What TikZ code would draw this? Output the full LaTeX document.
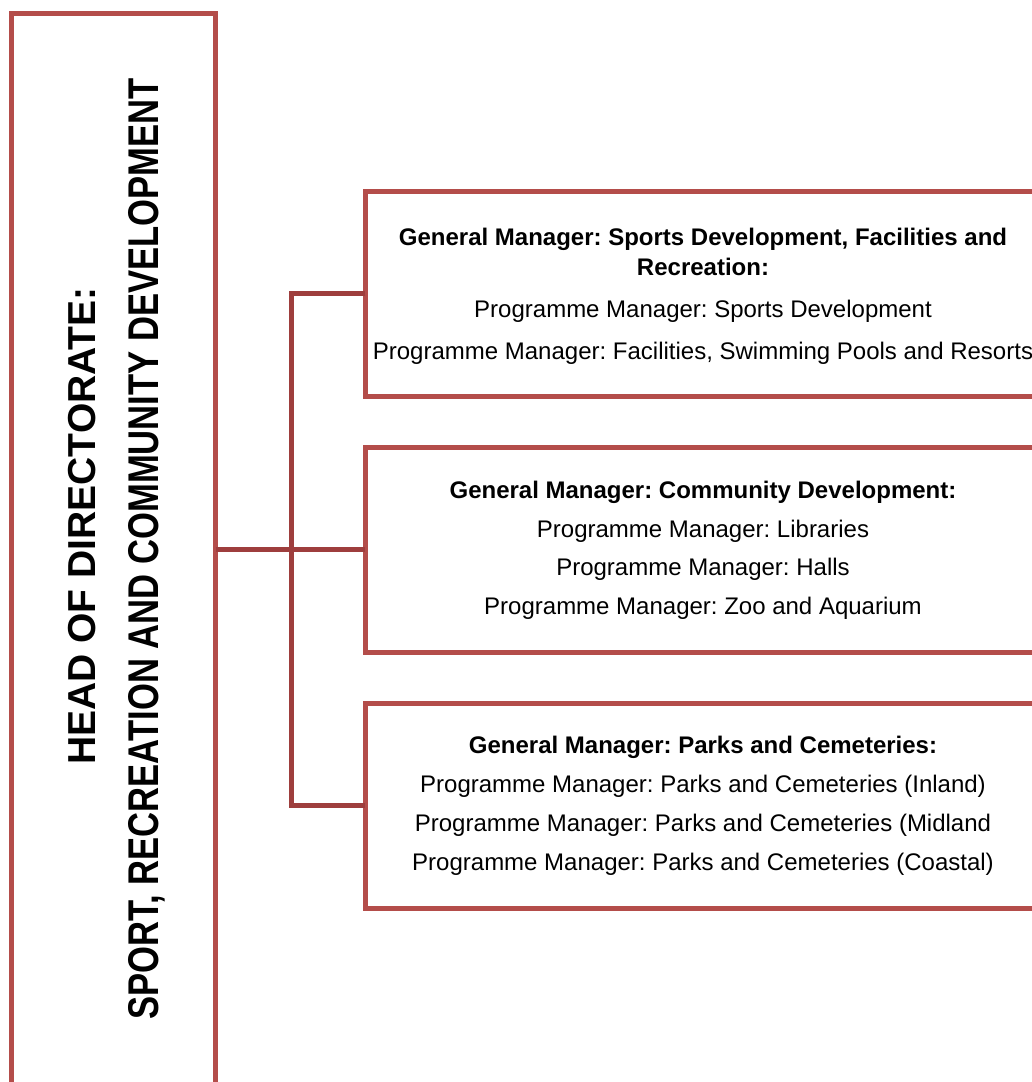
\documentclass[tikz,border=0pt]{standalone}
\usepackage{fontspec}
\setmainfont{Liberation Sans}
\frenchspacing
\begin{document}
\begin{tikzpicture}[x=1pt,y=-1pt,
  boxline/.style={draw=boxred,line width=5pt,outer sep=0pt},
  conn/.style={draw=connred,line width=5pt},
  mgrbox/.style={boxline,anchor=north west,minimum width=700pt,minimum height=205pt,inner sep=0pt},
  bodytxt/.style={anchor=base,inner sep=0pt,font=\fontsize{24}{28}\selectfont},
  headtxt/.style={anchor=base,inner sep=0pt,font=\fontsize{24}{28}\selectfont\bfseries},
]
\definecolor{boxred}{RGB}{180,77,74}
\definecolor{connred}{RGB}{158,62,61}
\useasboundingbox (0,0) rectangle (1032,1082);
\clip (0,0) rectangle (1032,1082);
\fill[white] (0,0) rectangle (1032,1082);
% head box
\node[boxline,anchor=north west,minimum width=204pt,minimum height=1150pt,inner sep=0pt] (head) at (11.5,13) {};
\node[anchor=base,rotate=90,inner sep=0pt,font=\fontsize{39}{40}\selectfont\bfseries] (h1) at (95,526) {HEAD OF DIRECTORATE:};
\node[anchor=base,rotate=90,inner sep=0pt,font=\fontsize{43}{44}\selectfont\bfseries] (h2) at (158,549) {\scalebox{0.805}[1]{SPORT, RECREATION AND COMMUNITY DEVELOPMENT}};
% manager boxes
\node[mgrbox] (b1) at (365,191) {};
\node[mgrbox] (b2) at (365,447) {};
\node[mgrbox] (b3) at (365,703) {};
% connectors
\coordinate (bus) at (291,550);
\draw[conn] (b1.west) -| (bus) |- (b3.west);
\draw[conn] (head.east |- b2.west) -- (b2.west);
% texts box 1
\node[headtxt] (t11) at (703,245) {General Manager: Sports Development, Facilities and};
\node[headtxt] (t12) at (703,275) {Recreation:};
\node[bodytxt] (t13) at (703,317) {Programme Manager: Sports Development};
\node[bodytxt] (t14) at (703,359) {Programme Manager: Facilities, Swimming Pools and Resorts};
% texts box 2
\node[headtxt] (t21) at (703,498) {General Manager: Community Development:};
\node[bodytxt] (t22) at (703,537) {Programme Manager: Libraries};
\node[bodytxt] (t23) at (703,575) {Programme Manager: Halls};
\node[bodytxt] (t24) at (703,614) {Programme Manager: Zoo and Aquarium};
% texts box 3
\node[headtxt] (t31) at (703,753) {General Manager: Parks and Cemeteries:};
\node[bodytxt] (t32) at (703,792) {Programme Manager: Parks and Cemeteries (Inland)};
\node[bodytxt] (t33) at (703,831) {Programme Manager: Parks and Cemeteries (Midland};
\node[bodytxt] (t34) at (703,870) {Programme Manager: Parks and Cemeteries (Coastal)};
\end{tikzpicture}
\end{document}
